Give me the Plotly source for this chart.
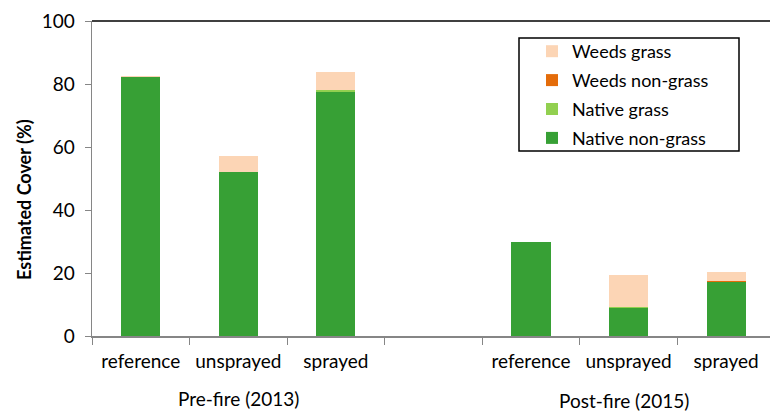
import plotly.graph_objects as go

# ---- data ----
periods = ["Pre-fire (2013)", "Pre-fire (2013)", "Pre-fire (2013)", "",
           "Post-fire (2015)", "Post-fire (2015)", "Post-fire (2015)"]
treatments = ["reference", "unsprayed", "sprayed", "",
              "reference", "unsprayed", "sprayed"]
group_labels = ["Pre-fire (2013)", "Post-fire (2015)"]

native_nongrass = [82.1, 52.0, 77.4, None, 29.8, 9.0, 17.0]
native_grass    = [0.0, 0.2, 0.7, None, 0.0, 0.1, 0.2]
weeds_nongrass  = [0.0, 0.0, 0.0, None, 0.0, 0.0, 0.4]
weeds_grass     = [0.3, 5.0, 5.7, None, 0.2, 10.4, 2.6]

series = [
    ("Native non-grass", native_nongrass, "#37A035"),
    ("Native grass", native_grass, "#92D050"),
    ("Weeds non-grass", weeds_nongrass, "#E46C0A"),
    ("Weeds grass", weeds_grass, "#FCD5B5"),
]

# unique category ids (period + treatment), shown with the treatment name only
cat_ids = [f"{p}|{t}|{i}" for i, (p, t) in enumerate(zip(periods, treatments))]

FONT = "Lato"
fig = go.Figure()
for k, (name, vals, col) in enumerate(series):
    fig.add_trace(go.Bar(
        x=cat_ids, y=vals, name=name,
        marker=dict(color=col, line=dict(width=0)),
        width=0.4, legendrank=len(series) - k, legendgroup=name,
        hoverinfo="skip",
    ))

# plot area geometry (px): left 92, right 770, top 21, bottom 336
W, H = 770, 413
L, R, T, B = 92, 0, 21, 77
pw, ph = W - L - R, H - T - B

def px(x):
    return (x - L) / pw

def py(y):
    return (H - B - y) / ph

pre_idx = [i for i, p in enumerate(periods) if p == group_labels[0]]
post_idx = [i for i, p in enumerate(periods) if p == group_labels[1]]

fig.update_layout(
    width=W, height=H,
    margin=dict(l=L, r=R, t=T, b=B, autoexpand=False),
    barmode="stack",
    plot_bgcolor="white", paper_bgcolor="white",
    font=dict(family=FONT, size=19, color="#000000"),
    showlegend=True,
    legend=dict(
        traceorder="grouped", tracegroupgap=2.5,
        x=px(532), y=py(33), xanchor="left", yanchor="top",
        bgcolor="rgba(0,0,0,0)", borderwidth=0,
        font=dict(family=FONT, size=18, color="#000000"),
    ),
    xaxis=dict(
        type="category",
        categoryorder="array", categoryarray=cat_ids,
        tickmode="array", tickvals=cat_ids, ticktext=treatments,
        range=[-0.5, 6.45],
        showline=True, linecolor="#868686", linewidth=1.5,
        ticks="outside", ticklen=7, tickcolor="#868686", tickwidth=1,
        tickson="boundaries",
        ticklabelstandoff=8,
        showgrid=False, zeroline=False, automargin=False,
        tickfont=dict(family=FONT, size=19),
    ),
    yaxis=dict(
        range=[0, 100], dtick=20, tick0=0,
        showline=True, linecolor="#868686", linewidth=1.5,
        ticks="outside", ticklen=6, tickcolor="#868686", tickwidth=1,
        showgrid=False, zeroline=False, automargin=False,
        ticklabelstandoff=6,
        tickfont=dict(family=FONT, size=19),
    ),
    shapes=[
        dict(type="line", xref="paper", yref="paper", x0=0, x1=1, y0=1, y1=1,
             line=dict(color="#000000", width=1.5)),
        dict(type="rect", xref="paper", yref="paper",
             x0=px(519), x1=px(739), y0=py(151), y1=py(38),
             line=dict(color="#000000", width=1.5), fillcolor="rgba(0,0,0,0)"),
    ],
    annotations=[
        dict(text="<b>Estimated Cover (%)</b>", xref="paper", yref="paper",
             x=px(24), y=py(200), textangle=-90, showarrow=False,
             xanchor="center", yanchor="middle",
             font=dict(family=FONT, size=18, color="#000000")),
        dict(text=group_labels[0], xref="x", yref="paper",
             x=sum(pre_idx) / len(pre_idx), y=py(398), showarrow=False,
             xanchor="center", yanchor="middle",
             font=dict(family=FONT, size=19, color="#000000")),
        dict(text=group_labels[1], xref="x", yref="paper",
             x=sum(post_idx) / len(post_idx) - 0.05, y=py(400), showarrow=False,
             xanchor="center", yanchor="middle",
             font=dict(family=FONT, size=19, color="#000000")),
    ],
)

fig.write_html(
    "out.html",
    config={"displayModeBar": False, "staticPlot": True},
    post_script="document.body.style.margin='0';document.body.style.overflow='hidden';",
)
